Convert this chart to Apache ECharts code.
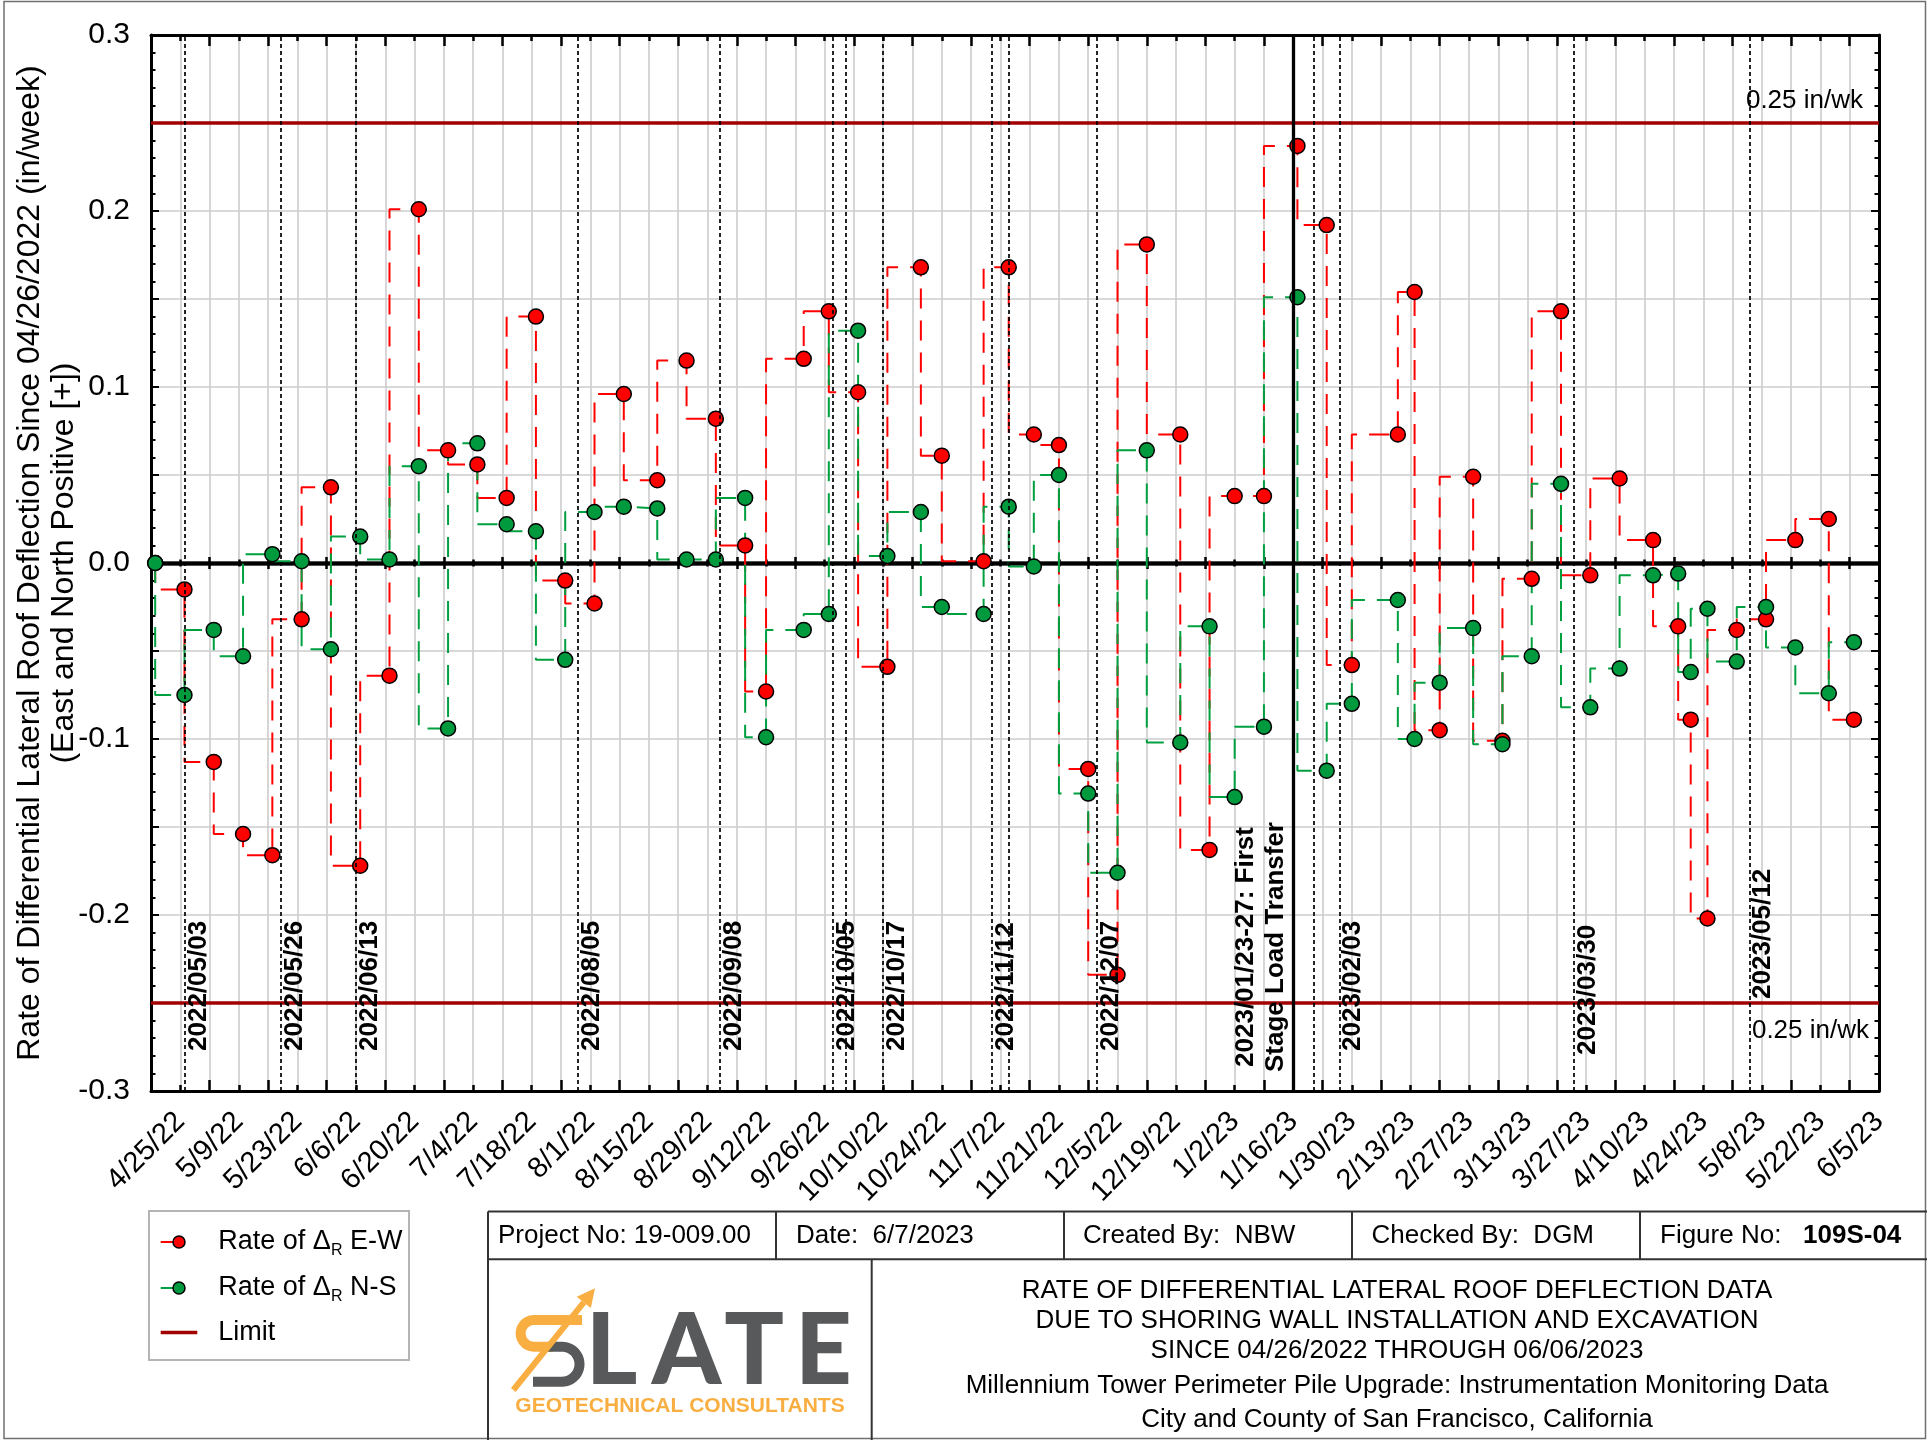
<!DOCTYPE html>
<html>
<head>
<meta charset="utf-8">
<script src="https://cdn.jsdelivr.net/npm/echarts@6/dist/echarts.min.js"></script>
<style>
html,body{margin:0;padding:0;background:#fff;}
#c{width:1927px;height:1440px;}
</style>
</head>
<body>
<div id="c"></div>
<script>
// ---------------- DATA ----------------
const AXIS_START = '2022-04-18';
const AXIS_END = '2023-06-05';

const sampleDates = ['2022-04-19','2022-04-26','2022-05-03','2022-05-10','2022-05-17','2022-05-24','2022-05-31','2022-06-07','2022-06-14','2022-06-21',
  '2022-06-28','2022-07-05','2022-07-12','2022-07-19','2022-07-26','2022-08-02','2022-08-09','2022-08-17','2022-08-24','2022-08-31',
  '2022-09-07','2022-09-12','2022-09-21','2022-09-27','2022-10-04','2022-10-11','2022-10-19','2022-10-24','2022-11-03','2022-11-09',
  '2022-11-15','2022-11-21','2022-11-28','2022-12-05','2022-12-12','2022-12-20','2022-12-27','2023-01-02','2023-01-09','2023-01-17',
  '2023-01-24','2023-01-30','2023-02-10','2023-02-14','2023-02-20','2023-02-28','2023-03-07','2023-03-14','2023-03-21','2023-03-28',
  '2023-04-04','2023-04-12','2023-04-18','2023-04-21','2023-04-25','2023-05-02','2023-05-09','2023-05-16','2023-05-24','2023-05-30'];

const ewRate = [0, -0.015, -0.113, -0.154, -0.166, -0.032, 0.043, -0.172, -0.064, 0.201,
  0.064, 0.056, 0.037, 0.140, -0.010, -0.023, 0.096, 0.047, 0.115, 0.082,
  0.010, -0.073, 0.116, 0.143, 0.097, -0.059, 0.168, 0.061, 0.001, 0.168,
  0.073, 0.067, -0.117, -0.234, 0.181, 0.073, -0.163, 0.038, 0.038, 0.237,
  0.192, -0.058, 0.073, 0.154, -0.095, 0.049, -0.101, -0.009, 0.143, -0.007,
  0.048, 0.013, -0.036, -0.089, -0.202, -0.038, -0.032, 0.013, 0.025, -0.089];

const nsRate = [0, -0.075, -0.038, -0.053, 0.005, 0.001, -0.049, 0.015, 0.002, 0.055,
  -0.094, 0.068, 0.022, 0.018, -0.055, 0.029, 0.032, 0.031, 0.002, 0.002,
  0.037, -0.099, -0.038, -0.029, 0.132, 0.004, 0.029, -0.025, -0.029, 0.032,
  -0.002, 0.050, -0.131, -0.176, 0.064, -0.102, -0.036, -0.133, -0.093, 0.151,
  -0.118, -0.080, -0.021, -0.100, -0.068, -0.037, -0.103, -0.053, 0.045, -0.082,
  -0.060, -0.007, -0.006, -0.062, -0.026, -0.056, -0.025, -0.048, -0.074, -0.045];

const limitValues = [0.25, -0.25];
const limitLabel = '0.25 in/wk';

const tickLabels = ['4/25/22','5/9/22','5/23/22','6/6/22','6/20/22','7/4/22','7/18/22','8/1/22','8/15/22','8/29/22',
  '9/12/22','9/26/22','10/10/22','10/24/22','11/7/22','11/21/22','12/5/22','12/19/22','1/2/23','1/16/23',
  '1/30/23','2/13/23','2/27/23','3/13/23','3/27/23','4/10/23','4/24/23','5/8/23','5/22/23','6/5/23'];

const eventDates = ['2022-04-26','2022-05-19','2022-06-06','2022-07-29','2022-09-01','2022-09-28','2022-10-01','2022-10-10',
  '2022-11-05','2022-11-09','2022-11-30','2023-01-21','2023-01-27','2023-03-24','2023-05-05'];
const eventLabels = ['2022/05/03','2022/05/26','2022/06/13','2022/08/05','2022/09/08','2022/10/05','','2022/10/17',
  '2022/11/12','','2022/12/07','','2023/02/03','2023/03/30','2023/05/12'];

const loadTransferDate = '2023-01-16';
const loadTransferLabel = '2023/01/23-27: First\nStage Load Transfer';

const seriesNames = ['Rate of \u0394R E-W', 'Rate of \u0394R N-S', 'Limit'];
const yTitle = 'Rate of Differential Lateral Roof Deflection Since 04/26/2022 (in/week)\n(East and North Positive [+])';

const headerCells = ['Project No: 19-009.00', 'Date:  6/7/2023', 'Created By:  NBW', 'Checked By:  DGM', 'Figure No:'];
const figureNo = '109S-04';
const titleLines = ['RATE OF DIFFERENTIAL LATERAL ROOF DEFLECTION DATA',
  'DUE TO SHORING WALL INSTALLATION AND EXCAVATION',
  'SINCE 04/26/2022 THROUGH 06/06/2023',
  'Millennium Tower Perimeter Pile Upgrade: Instrumentation Monitoring Data',
  'City and County of San Francisco, California'];
const logoWord = 'LATE';
const logoTagline = 'GEOTECHNICAL CONSULTANTS';

// ---------------- HELPERS ----------------
const DAY = 86400000;
function dayNum(s) { return (Date.parse(s + 'T00:00:00Z') - Date.parse(AXIS_START + 'T00:00:00Z')) / DAY; }
const span = dayNum(AXIS_END);
const FONT = '"Liberation Sans", Arial, Helvetica, sans-serif';
const RED = '#FF0000', GREEN = '#009A3E', GREEN_LINE = '#00A040', LIMIT = '#A00000';

const ewData = sampleDates.map((d, i) => [dayNum(d), ewRate[i]]);
const nsData = sampleDates.map((d, i) => [dayNum(d), nsRate[i]]);

function xLabel(v) {
  const k = (v - 7) / 14;
  const r = Math.round(k);
  if (Math.abs(k - r) < 1e-6 && r >= 0 && r < tickLabels.length) return tickLabels[r];
  return '';
}
function yLabel(v) {
  const t = Math.round(v * 100);
  if (t % 10 !== 0) return '';
  return (t / 100).toFixed(1);
}

const baseX = {type: 'value', min: 0, max: span, gridIndex: 0, axisLabel: {show: false}, splitLine: {show: false}, axisPointer: {show: false}};
function tick(len, inside) { return {show: true, inside: inside, length: len, lineStyle: {color: '#000', width: 2.5}}; }
const lineOn = (w, onZero) => ({show: true, onZero: onZero, onZeroAxisIndex: 0, lineStyle: {color: '#000', width: w}});
const xAxes = [
  Object.assign({}, baseX, {interval: 7, position: 'bottom', axisLine: lineOn(3, false), axisTick: tick(6, true),
    axisLabel: {show: true, rotate: 45, margin: 26, fontSize: 29, fontFamily: FONT, color: '#000', formatter: xLabel},
    splitLine: {show: true, lineStyle: {color: '#cccccc', width: 1.6}}}),
  Object.assign({}, baseX, {interval: 14, position: 'bottom', axisLine: {show: false, onZero: false}, axisTick: tick(11, true)}),
  Object.assign({}, baseX, {interval: 7, position: 'top', axisLine: lineOn(3, false), axisTick: tick(6, true)}),
  Object.assign({}, baseX, {interval: 14, position: 'top', axisLine: {show: false, onZero: false}, axisTick: tick(11, true)}),
  Object.assign({}, baseX, {interval: 7, position: 'bottom', axisLine: lineOn(3.3, true), axisTick: tick(3.5, true)}),
  Object.assign({}, baseX, {interval: 7, position: 'bottom', axisLine: lineOn(3.3, true), axisTick: tick(3.5, false)}),
  Object.assign({}, baseX, {interval: 14, position: 'bottom', axisLine: lineOn(3.3, true), axisTick: tick(6, true)}),
  Object.assign({}, baseX, {interval: 14, position: 'bottom', axisLine: lineOn(3.3, true), axisTick: tick(6, false)})
];
const yBase = {type: 'value', min: -0.3, max: 0.3, interval: 0.05,
  axisLine: {show: true, onZero: false, lineStyle: {color: '#000', width: 3}},
  axisTick: {show: true, inside: true, length: 8, lineStyle: {color: '#000', width: 2}},
  minorTick: {show: true, splitNumber: 5, length: 4.5, lineStyle: {color: '#000', width: 2}},
  axisPointer: {show: false}};
const yAxes = [
  Object.assign({}, yBase, {position: 'left', axisLabel: {show: true, margin: 21, fontSize: 30, fontFamily: FONT, color: '#000', formatter: yLabel},
    splitLine: {show: true, lineStyle: {color: '#cccccc', width: 1.6}}}),
  Object.assign({}, yBase, {position: 'right', axisLabel: {show: false}, splitLine: {show: false}})
];

const chart = echarts.init(document.getElementById('c'), null, {renderer: 'canvas', width: 1927, height: 1440});

const option = {
  animation: false,
  backgroundColor: '#fff',
  grid: {left: 151, top: 35, width: 1728, height: 1056},
  xAxis: xAxes,
  yAxis: yAxes,
  series: [
    {name: seriesNames[2], type: 'line', data: [], z: 2,
      markLine: {silent: true, symbol: 'none', label: {show: false}, animation: false,
        lineStyle: {color: LIMIT, width: 3.5, type: 'solid'}, data: limitValues.map(v => ({yAxis: v}))}},
    {name: 'events', type: 'line', data: [], z: 2,
      markLine: {silent: true, symbol: 'none', label: {show: false}, animation: false,
        lineStyle: {color: '#000', width: 1.7, type: [4, 3]}, data: eventDates.map(d => ({xAxis: dayNum(d)}))}},
    {name: 'loadTransfer', type: 'line', data: [], z: 2,
      markLine: {silent: true, symbol: 'none', label: {show: false}, animation: false,
        lineStyle: {color: '#000', width: 3.3, type: 'solid'}, data: [{xAxis: dayNum(loadTransferDate)}]}},
    {name: seriesNames[0], type: 'line', step: 'start', data: ewData, showSymbol: false, z: 3,
      lineStyle: {color: RED, width: 2, type: [20, 12]}},
    {name: seriesNames[1], type: 'line', step: 'start', data: nsData, showSymbol: false, z: 3,
      lineStyle: {color: GREEN_LINE, width: 2, type: [20, 12]}},
    {name: seriesNames[0] + ' pts', type: 'scatter', data: ewData, symbol: 'circle', symbolSize: 15, z: 4,
      itemStyle: {color: RED, borderColor: '#000', borderWidth: 1.5, opacity: 1}},
    {name: seriesNames[1] + ' pts', type: 'scatter', data: nsData, symbol: 'circle', symbolSize: 15, z: 4,
      itemStyle: {color: GREEN, borderColor: '#000', borderWidth: 1.5, opacity: 1}}
  ]
};
chart.setOption(option);

// ---------------- GRAPHICS (labels, legend, title block) ----------------
const px = (x, y) => chart.convertToPixel({xAxisIndex: 0, yAxisIndex: 0}, [x, y]);
const g = [];
const T = (o) => { o.silent = true; o.z = o.z || 100; g.push(o); };
const txt = (x, y, text, size, extra) => T(Object.assign({type: 'text', x: x, y: y,
  style: Object.assign({text: text, fontSize: size, fontFamily: FONT, fill: '#000', align: 'left', verticalAlign: 'middle'}, (extra && extra.style) || {})},
  extra && extra.rotation ? {rotation: extra.rotation} : {}));
const ln = (x1, y1, x2, y2, color, w) => T({type: 'line', shape: {x1, y1, x2, y2}, style: {stroke: color, lineWidth: w}});

// frame
T({type: 'rect', shape: {x: 4, y: 1.5, width: 1921.5, height: 1437}, style: {fill: 'none', stroke: '#707070', lineWidth: 1.5}});

// y-axis title
txt(47, 563, yTitle, 32, {rotation: Math.PI / 2, style: {align: 'center', verticalAlign: 'middle', lineHeight: 34}});

// event labels
const labelBottom = [1051, 1051, 1051, 1051, 1051, 1051, 0, 1051, 1051, 0, 1051, 0, 1051, 1055, 999];
eventDates.forEach((d, i) => {
  if (!eventLabels[i]) return;
  const p = px(dayNum(d), 0);
  txt(p[0] + 1, labelBottom[i], eventLabels[i], 26, {rotation: Math.PI / 2, style: {fontWeight: 'bold', align: 'left', verticalAlign: 'top'}});
});
{
  const p = px(dayNum(loadTransferDate), 0);
  txt(p[0] - 2, 947, loadTransferLabel, 26, {rotation: Math.PI / 2, style: {fontWeight: 'bold', align: 'center', verticalAlign: 'bottom', lineHeight: 30}});
}
// limit labels
{
  const pTop = px(span, limitValues[0]);
  const pBot = px(span, limitValues[1]);
  txt(pTop[0] - 16, pTop[1] - 22, limitLabel, 26, {style: {align: 'right'}});
  txt(pBot[0] - 10, pBot[1] + 28, limitLabel, 26, {style: {align: 'right'}});
}

// legend
T({type: 'rect', shape: {x: 149, y: 1211, width: 260, height: 149}, style: {fill: '#fff', stroke: '#b4b4b4', lineWidth: 2}, z: 99});
const legRows = [1242, 1288, 1332.5];
[RED, GREEN].forEach((c, i) => {
  ln(160.7, legRows[i], 180, legRows[i], i === 0 ? RED : GREEN_LINE, 2);
  T({type: 'circle', shape: {cx: 179, cy: legRows[i], r: 6}, style: {fill: c, stroke: '#000', lineWidth: 1.5}});
  const parts = seriesNames[i].split('\u0394R');
  T({type: 'text', x: 218.3, y: legRows[i], style: {
    text: '{a|' + parts[0] + '\u0394}{s|R}{a|' + parts[1] + '}', align: 'left', verticalAlign: 'middle', fill: '#000',
    rich: {a: {fontSize: 27, fontFamily: FONT, fill: '#000'}, s: {fontSize: 16, fontFamily: FONT, fill: '#000', padding: [18, 0, 0, 0]}}}});
});
ln(160.7, legRows[2], 197.3, legRows[2], LIMIT, 3.3);
txt(218.3, legRows[2], seriesNames[2], 27);

// title block
const LC = '#333';
ln(488, 1211.5, 1927, 1211.5, LC, 2);
ln(488, 1259.3, 1927, 1259.3, LC, 2);
ln(488, 1211.5, 488, 1440, LC, 2);
[776, 1064, 1352, 1640].forEach(x => ln(x, 1211.5, x, 1259.3, LC, 2));
ln(871.7, 1259.3, 871.7, 1440, LC, 2);
const headX = [498, 796, 1083, 1371.5, 1660];
headerCells.forEach((t, i) => txt(headX[i], 1236, t, 26));
txt(1803, 1236, figureNo, 26, {style: {fontWeight: 'bold'}});
const titleY = [1291, 1321, 1350.5, 1386, 1420];
titleLines.forEach((t, i) => txt(1397, titleY[i], t, 26, {style: {align: 'center'}}));

// logo
const ORANGE = '#F9AE42', GREY = '#58595B';
function arcPts(cx, cy, r, a0, a1, n) {
  const pts = [];
  for (let k = 0; k <= n; k++) { const a = a0 + (a1 - a0) * k / n; pts.push([cx + r * Math.cos(a), cy + r * Math.sin(a)]); }
  return pts;
}
const upperS = [[582, 1320]].concat(arcPts(534, 1333.35, 13.35, -Math.PI / 2, -1.5 * Math.PI, 24)).concat([[553, 1346.7]]);
const lowerS = [[548, 1346.7]].concat(arcPts(562, 1364.2, 17.5, -Math.PI / 2, Math.PI / 2, 24)).concat([[533, 1381.7]]);
T({type: 'polyline', shape: {points: upperS}, style: {fill: null, stroke: ORANGE, lineWidth: 10}});
T({type: 'polyline', shape: {points: lowerS}, style: {fill: null, stroke: GREY, lineWidth: 10}});
ln(513.3, 1390, 583.8, 1302.4, ORANGE, 6);
T({type: 'polygon', shape: {points: [[595, 1288.3], [576.8, 1296.8], [590.8, 1308]]}, style: {fill: ORANGE}});
const logoX = [611.5, 686.5, 754.2, 823.3];
logoWord.split('').forEach((l, i) => T({type: 'text', x: logoX[i], y: 1352, style: {text: l, fontSize: 99, fontWeight: 900,
  fontFamily: 'Lato, "Liberation Sans", sans-serif', fill: GREY, align: 'center', verticalAlign: 'middle'}}));
txt(680, 1406, logoTagline, 21, {style: {fontWeight: 'bold', fill: ORANGE, align: 'center'}});

chart.setOption({graphic: g});
</script>
</body>
</html>
